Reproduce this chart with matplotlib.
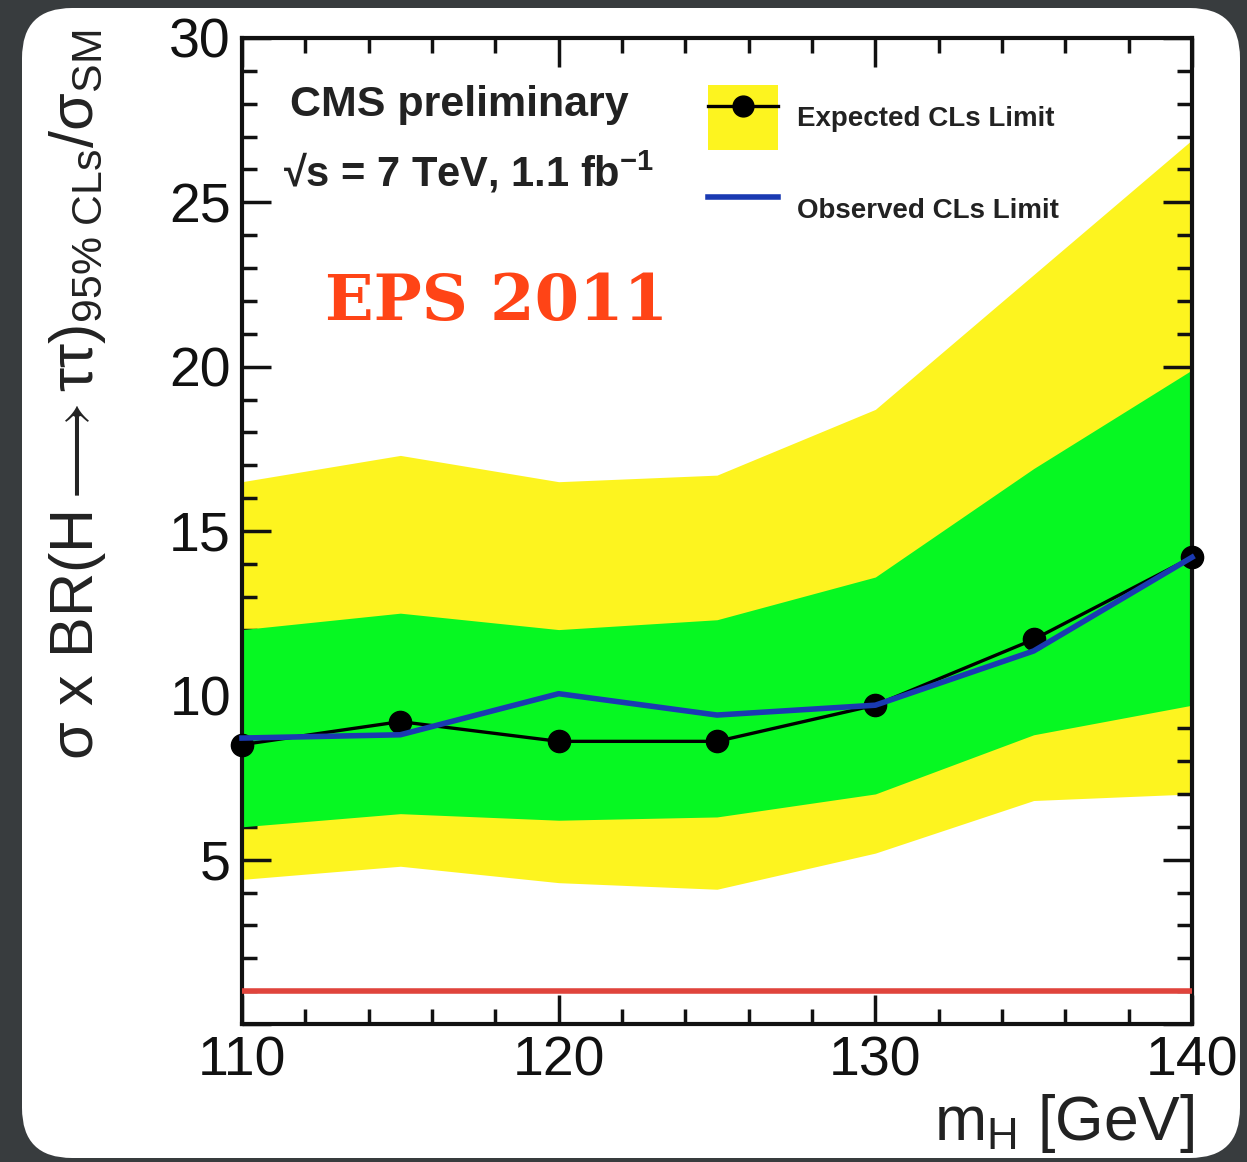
"""CMS H->tautau 95% CLs limit plot, EPS 2011."""
import matplotlib

matplotlib.use("Agg")
import matplotlib.pyplot as plt  # noqa
from matplotlib.legend_handler import HandlerTuple
from matplotlib.lines import Line2D
from matplotlib.patches import FancyBboxPatch, Patch
from matplotlib.ticker import FuncFormatter, MultipleLocator

# values
masses = [110, 115, 120, 125, 130, 135, 140]
expected = [8.5, 9.2, 8.6, 8.6, 9.7, 11.7, 14.2]
observed = [8.7, 8.8, 10.05, 9.4, 9.7, 11.35, 14.2]
band1_lo = [6.0, 6.4, 6.2, 6.3, 7.0, 8.8, 9.7]
band1_hi = [12.0, 12.5, 12.0, 12.3, 13.6, 16.9, 19.9]
band2_lo = [4.4, 4.8, 4.3, 4.1, 5.2, 6.8, 7.0]
band2_hi = [16.5, 17.3, 16.5, 16.7, 18.7, 22.8, 26.9]
sm_ref = 1.0

legend_labels = ["Expected CLs Limit", "Observed CLs Limit"]

YELLOW = "#fdf41f"
GREEN = "#06f822"
BLUE = "#1a3ab2"
RED = "#e0443c"

plt.rcParams["font.family"] = ["Liberation Sans", "DejaVu Sans"]
plt.rcParams["mathtext.fontset"] = "custom"
plt.rcParams["mathtext.rm"] = "Liberation Sans"
plt.rcParams["mathtext.it"] = "Liberation Sans:italic"
plt.rcParams["mathtext.bf"] = "Liberation Sans:bold"
plt.rcParams["mathtext.fallback"] = "stixsans"

fig = plt.figure(figsize=(12.47, 11.62), dpi=100)
fig.patch.set_facecolor("#383c3e")

# white rounded slide panel
panel = FancyBboxPatch(
    (0.22, 0.04), 12.18, 11.5,
    boxstyle="round,pad=0,rounding_size=0.5",
    transform=fig.dpi_scale_trans, facecolor="white", edgecolor="none", zorder=-5,
)
fig.patches.append(panel)

ax = fig.add_axes([0.19407, 0.11876, 0.76183, 0.84854])
ax.set_facecolor("none")
ax.set_zorder(2)

ax.fill_between(masses, band2_lo, band2_hi, color=YELLOW, lw=0, zorder=1)
ax.fill_between(masses, band1_lo, band1_hi, color=GREEN, lw=0, zorder=2)
ax.axhline(sm_ref, color=RED, lw=4, zorder=3)
ax.plot(masses, expected, color="black", lw=2.4, marker="o", ms=16, clip_on=False, zorder=4)
ax.plot(masses, observed, color=BLUE, lw=4, clip_on=False, zorder=5)

ax.set_xlim(110, 140)
ax.set_ylim(0, 30)
ax.xaxis.set_major_locator(MultipleLocator(10))
ax.xaxis.set_minor_locator(MultipleLocator(2))
ax.yaxis.set_major_locator(MultipleLocator(5))
ax.yaxis.set_minor_locator(MultipleLocator(1))
ax.yaxis.set_major_formatter(FuncFormatter(lambda v, p: "" if v == 0 else f"{v:.0f}"))

ax.tick_params(which="both", direction="in", top=True, right=True, width=2.5, colors="#111111")
ax.tick_params(which="major", length=21, labelsize=40, pad=8)
ax.tick_params(which="minor", length=11)
for sp in ax.spines.values():
    sp.set_linewidth(3)
    sp.set_color("#111111")

# axis titles
fig.text(
    0.062, 0.975,
    r"σ x BR(H$\longrightarrow$ττ)$_{95\%\ \mathrm{CLs}}$/σ$_{\mathrm{SM}}$",
    rotation=90, ha="center", va="top", fontsize=44, color="#222222",
)
fig.text(0.958, 0.019, r"m$_{\mathrm{H}}$ [GeV]", ha="right", va="baseline",
         fontsize=45, color="#222222")

# annotations
ax.text(0.0505, 0.932, "CMS preliminary", transform=ax.transAxes, va="center",
        fontsize=31, fontweight="bold", color="#222222")
ax.text(0.043, 0.864, r"√s = 7 TeV, 1.1 fb$^{\mathbf{-1}}$", transform=ax.transAxes,
        va="center", fontsize=30, fontweight="bold", color="#222222")
ax.text(0.0874, 0.732, "EPS 2011", transform=ax.transAxes, va="center",
        fontsize=46, fontweight="heavy", family=["DejaVu Serif"], color="#ff4416", zorder=6)

exp_handle = (
    Patch(facecolor=YELLOW, edgecolor="none"),
    Line2D([], [], color="black", lw=2.4, marker="o", ms=15),
)
obs_handle = Line2D([], [], color=BLUE, lw=4)
leg = ax.legend(
    [exp_handle, obs_handle], legend_labels,
    handler_map={tuple: HandlerTuple(ndivide=1, pad=0)},
    loc="upper left", bbox_to_anchor=(0.4905, 0.952), frameon=False,
    borderpad=0, borderaxespad=0, handlelength=2.52, handleheight=3.22,
    handletextpad=0.68, labelspacing=0.97,
    prop=dict(family="Liberation Sans", weight="bold", size=20),
)
for t in leg.get_texts():
    t.set_color("#222222")

fig.savefig("out.png", dpi=100, facecolor=fig.get_facecolor())
